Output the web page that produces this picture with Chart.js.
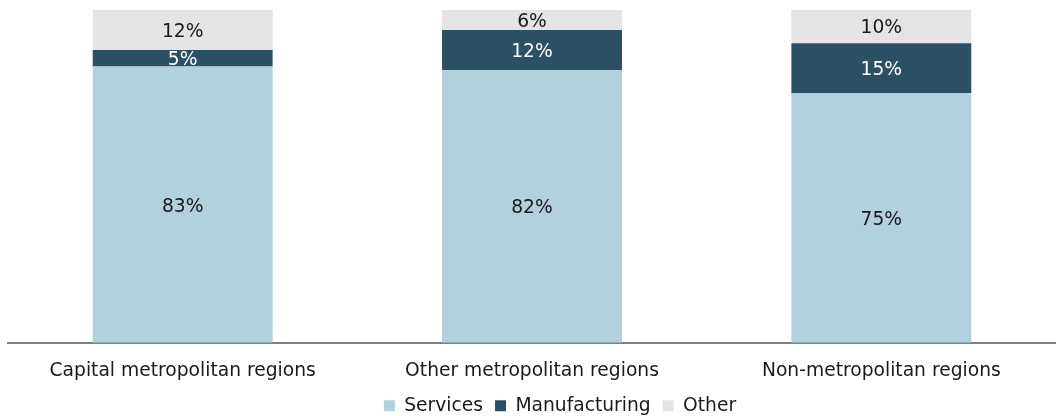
<!DOCTYPE html>
<html>
<head>
<meta charset="utf-8">
<script src="https://cdn.jsdelivr.net/npm/chart.js@4"></script>
<style>
  html, body { margin: 0; padding: 0; background: #fff; }
  #wrap { width: 1056px; height: 416px; }
</style>
</head>
<body>
<div id="wrap"><canvas id="chart"></canvas></div>
<script>
const categories = ['Capital metropolitan regions', 'Other metropolitan regions', 'Non-metropolitan regions'];
const services = [83, 82, 75];
const manufacturing = [5, 12, 15];
const other = [12, 6, 10];

const FONT = '"DejaVu Sans", Verdana, sans-serif';

// draw the % labels in the middle of each segment
const segmentLabels = {
  id: 'segmentLabels',
  afterDatasetsDraw(chart) {
    const ctx = chart.ctx;
    ctx.save();
    ctx.font = '18.7px ' + FONT;
    ctx.textAlign = 'center';
    ctx.textBaseline = 'middle';
    chart.data.datasets.forEach((ds, i) => {
      const meta = chart.getDatasetMeta(i);
      meta.data.forEach((bar, j) => {
        const { x, y, base } = bar.getProps(['x', 'y', 'base'], true);
        ctx.fillStyle = ds.labelColor;
        ctx.fillText(ds.data[j] + '%', x, (y + base) / 2 + 2);
      });
    });
    ctx.restore();
  }
};

// the original legend sits a little right of centre and a bit higher
const legendShift = {
  id: 'legendShift',
  afterLayout(chart) {
    const lg = chart.legend;
    lg.left += 28;
    lg.right += 28;
    lg.top -= 7;
    lg.bottom -= 7;
  }
};

new Chart(document.getElementById('chart'), {
  type: 'bar',
  data: {
    labels: categories,
    datasets: [
      { label: 'Services', data: services, backgroundColor: '#b1d1dc', labelColor: '#1a1a1a' },
      { label: 'Manufacturing', data: manufacturing, backgroundColor: '#2b4f64', labelColor: '#ffffff' },
      { label: 'Other', data: other, backgroundColor: '#e4e4e4', labelColor: '#1a1a1a' }
    ]
  },
  options: {
    responsive: true,
    maintainAspectRatio: false,
    animation: false,
    layout: { padding: { left: 8, top: 10, right: 0, bottom: -16 } },
    datasets: { bar: { barPercentage: 1, categoryPercentage: 0.515 } },
    scales: {
      x: {
        stacked: true,
        grid: { display: false },
        border: { display: true, color: '#808080', width: 2 },
        ticks: { color: '#1a1a1a', font: { family: FONT, size: 18.7 }, padding: 9 }
      },
      y: {
        stacked: true,
        display: false,
        min: 0,
        max: 100
      }
    },
    plugins: {
      legend: {
        position: 'bottom',
        labels: {
          boxWidth: 11,
          boxHeight: 11,
          padding: 12,
          color: '#1a1a1a',
          font: { family: FONT, size: 18.7 }
        }
      },
      tooltip: { enabled: false }
    }
  },
  plugins: [segmentLabels, legendShift]
});
</script>
</body>
</html>
